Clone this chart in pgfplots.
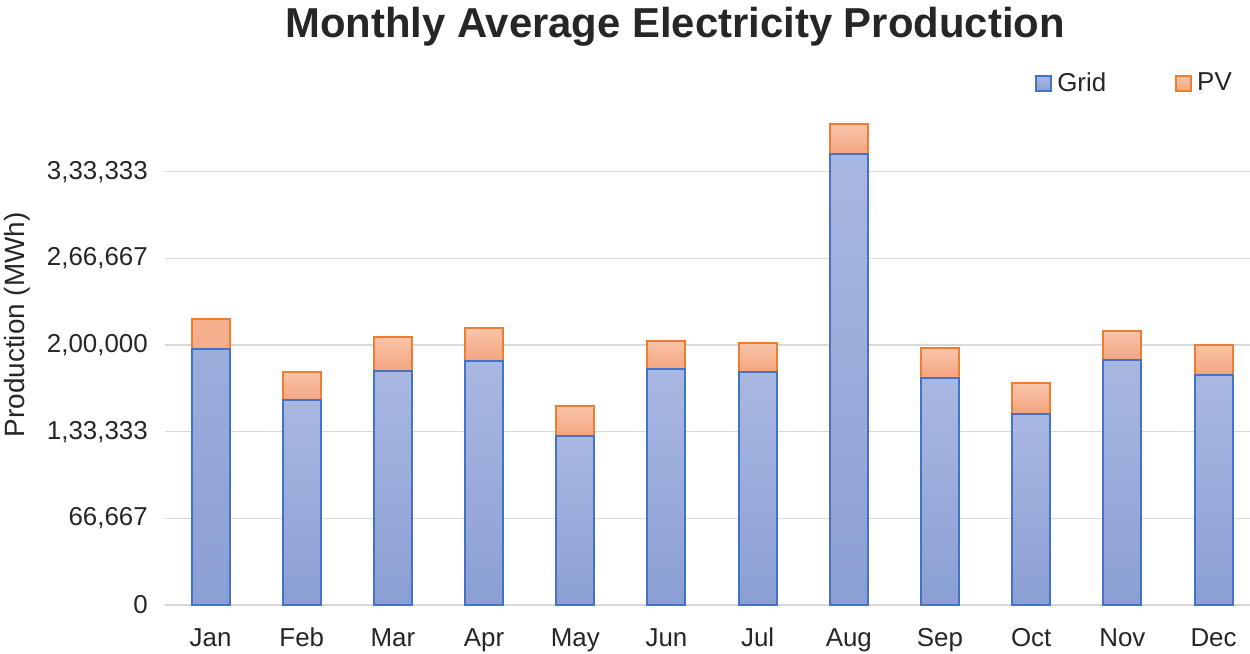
\documentclass[border=0pt]{standalone}
\usepackage{pgfplots}
\pgfplotsset{compat=1.18}
\usetikzlibrary{decorations.pathreplacing}
\usepackage{fontspec}
\setmainfont{Liberation Sans}

\definecolor{gridEdge}{HTML}{4472C4}
\definecolor{gridTop}{HTML}{A9B8E2}
\definecolor{gridBot}{HTML}{8A9FD3}
\definecolor{pvEdge}{HTML}{ED7D31}
\definecolor{pvTop}{HTML}{F8C5AA}
\definecolor{pvBot}{HTML}{F4A47E}
\definecolor{lineGray}{HTML}{D9D9D9}
\definecolor{textGray}{HTML}{262626}

% each bar gets its own vertical gradient: collect the corners of every
% rectangle of the bar path and shade it separately
\makeatletter
\newdimen\barxa \newdimen\barya \newdimen\barxb \newdimen\baryb
\newif\ifbarfresh \global\barfreshtrue
\def\barInit{\tikzinputsegmentfirst
  \global\barxa=\pgf@x \global\barya=\pgf@y
  \global\barxb=\pgf@x \global\baryb=\pgf@y}
\def\barGrow{\tikzinputsegmentlast
  \ifdim\pgf@x<\barxa \global\barxa=\pgf@x\fi
  \ifdim\pgf@x>\barxb \global\barxb=\pgf@x\fi
  \ifdim\pgf@y<\barya \global\barya=\pgf@y\fi
  \ifdim\pgf@y>\baryb \global\baryb=\pgf@y\fi}
\def\barLine{\ifbarfresh\barInit\global\barfreshfalse\fi\barGrow}
\makeatother
\tikzset{
  bar shade/.style 2 args={
    preaction={decorate, decoration={show path construction,
      moveto code={\global\barfreshtrue},
      lineto code={\barLine},
      closepath code={\barGrow
          \shade[top color=#1, bottom color=#2]
          (\the\barxa,\the\barya) rectangle (\the\barxb,\the\baryb);
          \global\barfreshtrue}}}
  }
}

\begin{document}
\begin{tikzpicture}
\path[use as bounding box] (-165bp,-49bp) rectangle (1085bp,605bp);
\begin{axis}[
    scale only axis,
    width=1085bp, height=494bp,
    xmin=-0.5, xmax=11.4,
    ymin=0, ymax=380000,
    ybar stacked,
    bar width=38bp,
    axis line style={draw=none},
    tick style={draw=none},
    major tick length=0pt,
    ymajorgrids,
    grid style={color=lineGray, line width=1.6bp},
    xtick={0,1,2,3,4,5,6,7,8,9,10,11},
    xticklabels={Jan,Feb,Mar,Apr,May,Jun,Jul,Aug,Sep,Oct,Nov,Dec},
    ytick={0,66667,133333,200000,266667,333333},
    yticklabels={0,{66,667},{1,33,333},{2,00,000},{2,66,667},{3,33,333}},
    scaled y ticks=false,
    tick label style={font=\fontsize{26}{30}\selectfont, text=textGray},
    xticklabel style={inner sep=0pt, anchor=north, yshift=-23bp},
    yticklabel style={inner sep=0pt, anchor=east, xshift=-17bp},
    ylabel={Production (MWh)},
    every axis y label/.style={at={(axis description cs:-0.136,0.567)},
        rotate=90, anchor=center, inner sep=0pt,
        font=\fontsize{28}{32}\selectfont, text=textGray},
    legend columns=2,
    legend style={at={(0.9834,1.0575)}, anchor=east, draw=none, fill=none,
        inner sep=0pt, column sep=0pt, nodes={inner sep=0pt, text=textGray},
        font=\fontsize{26}{30}\selectfont},
    /tikz/every even column/.append style={column sep=69bp},
    legend image code/.code={
        \draw[#1] (0bp,-8.5bp) rectangle (15bp,6.5bp);
        \path (20bp,0bp);
    },
]
\addplot[draw=gridEdge, fill=none, line width=2bp, bar shade={gridTop}{gridBot}]
    coordinates {
    (0, 196923)
    (1, 157690)
    (2, 180000)
    (3, 187690)
    (4, 130000)
    (5, 181538)
    (6, 179230)
    (7, 346923)
    (8, 174615)
    (9, 146923)
    (10, 188462)
    (11, 176923)
    };
\addplot[draw=pvEdge, fill=none, line width=2bp, bar shade={pvTop}{pvBot}]
    coordinates {
    (0, 23077)
    (1, 21540)
    (2, 26150)
    (3, 25390)
    (4, 23077)
    (5, 21540)
    (6, 22308)
    (7, 23077)
    (8, 23077)
    (9, 23846)
    (10, 22308)
    (11, 23077)
    };
\legend{Grid, PV}
\end{axis}
\node[font=\fontsize{42}{50}\selectfont\bfseries, text=textGray, anchor=base]
    at (510bp,567bp) {Monthly Average Electricity Production};
\end{tikzpicture}
\end{document}
